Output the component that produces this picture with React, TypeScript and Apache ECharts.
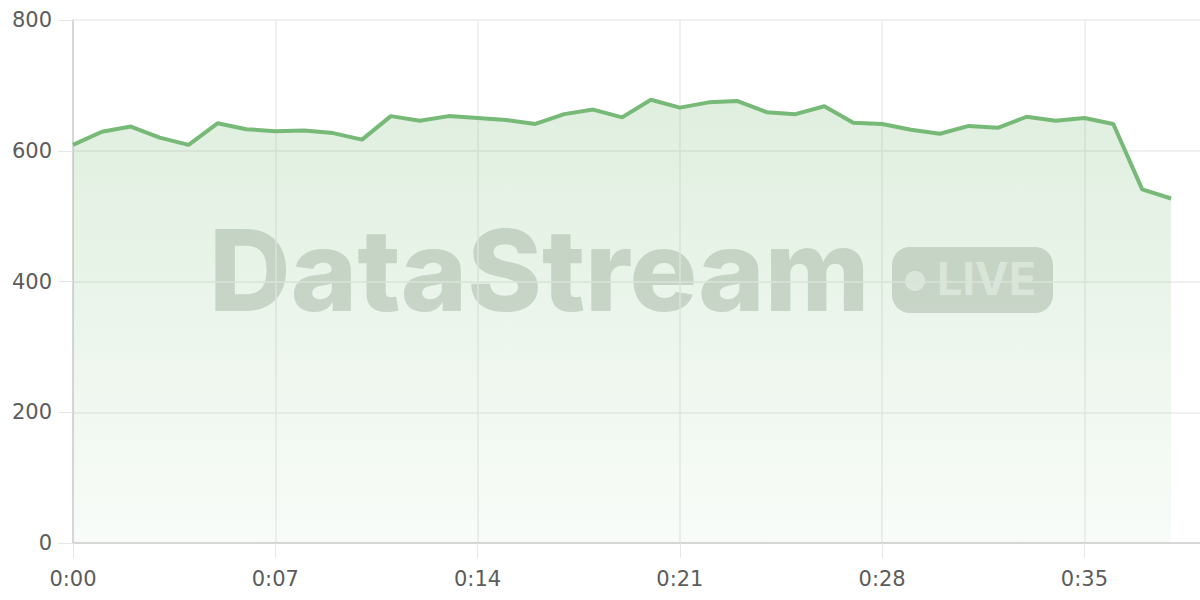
import React, { useEffect, useRef } from "react";
import * as echarts from "echarts";

const timeLabels: string[] = Array.from({ length: 40 }, (_, i) => `0:${String(i).padStart(2, "0")}`);

const values: number[] = [
  609, 629, 637, 620, 609, 642, 633, 630, 631, 627,
  617, 653, 646, 653, 650, 647, 641, 656, 663, 651,
  678, 666, 674, 676, 659, 656, 668, 643, 641, 632,
  626, 638, 635, 652, 646, 650, 641, 541, 527,
];

const yTicks = { min: 0, max: 800, interval: 200 };

const FONT = "Inter, 'Noto Sans', sans-serif";
const LABEL_FONT = "'DejaVu Sans', Inter, sans-serif";

export default function App() {
  const ref = useRef<HTMLDivElement>(null);

  useEffect(() => {
    if (!ref.current) return;
    const chart = echarts.init(ref.current, null, { renderer: "svg" });
    chart.setOption({
      animation: false,
      backgroundColor: "#ffffff",
      grid: { left: 73, right: 0, top: 20, bottom: 57, containLabel: false },
      xAxis: {
        type: "category",
        data: timeLabels,
        boundaryGap: false,
        axisLine: { show: true, lineStyle: { color: "#cfcfcf", width: 1.5 } },
        axisTick: { show: true, interval: 6, length: 15, lineStyle: { color: "#e6e6e6" } },
        axisLabel: {
          interval: 6,
          color: "#5c5c5c",
          fontSize: 21,
          fontFamily: LABEL_FONT,
          margin: 25,
        },
        splitLine: { show: true, interval: 6, lineStyle: { color: "#ebebeb", width: 1.5 } },
      },
      yAxis: {
        type: "value",
        min: yTicks.min,
        max: yTicks.max,
        interval: yTicks.interval,
        axisLine: { show: true, lineStyle: { color: "#cfcfcf", width: 1.5 } },
        axisTick: { show: true, length: 15, lineStyle: { color: "#e6e6e6" } },
        axisLabel: {
          color: "#5c5c5c",
          fontSize: 21,
          fontFamily: LABEL_FONT,
          margin: 21,
        },
        splitLine: { show: true, lineStyle: { color: "#ebebeb", width: 1.5 } },
      },
      graphic: [
        {
          type: "group",
          silent: true,
          z: 1,
          children: [
            {
              type: "text",
              x: 209,
              y: 213,
              style: {
                text: "DataStream",
                font: `800 113px ${FONT}`,
                fill: "rgba(150,160,150,0.40)",
              },
            },
            {
              type: "rect",
              shape: { x: 892, y: 247, width: 161, height: 66, r: 18 },
              style: { fill: "rgba(150,160,150,0.40)" },
            },
            {
              type: "circle",
              shape: { cx: 915, cy: 281, r: 10 },
              style: { fill: "rgba(255,255,255,0.55)" },
            },
            {
              type: "text",
              x: 937,
              y: 256,
              style: {
                text: "LIVE",
                font: `700 45px ${FONT}`,
                fill: "rgba(255,255,255,0.55)",
              },
            },
          ],
        },
      ],
      series: [
        {
          type: "line",
          data: values,
          symbol: "none",
          smooth: false,
          z: 3,
          lineStyle: { color: "#77b977", width: 4 },
          areaStyle: {
            color: new echarts.graphic.LinearGradient(0, 0, 0, 1, [
              { offset: 0, color: "rgba(121,187,121,0.34)" },
              { offset: 1, color: "rgba(121,187,121,0.07)" },
            ]),
          },
        },
      ],
    });
    return () => chart.dispose();
  }, []);

  return (
    <div
      ref={ref}
      style={{ position: "fixed", left: 0, top: 0, width: 1200, height: 600 }}
    />
  );
}
